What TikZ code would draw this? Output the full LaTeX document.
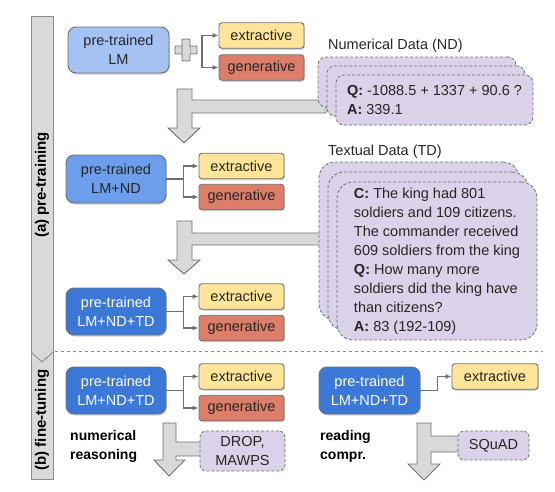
\documentclass[tikz,border=0pt]{standalone}
\usepackage{fontspec}
\setmainfont{Liberation Sans}
\usetikzlibrary{shadows,arrows.meta}
\definecolor{lblue}{HTML}{A4C2F4}
\definecolor{mblue}{HTML}{6D9EEB}
\definecolor{dblue}{HTML}{3C78D8}
\definecolor{lyellow}{HTML}{FFE599}
\definecolor{lred}{HTML}{DD7E6B}
\definecolor{lav}{HTML}{D9D2E9}
\definecolor{lgray}{HTML}{D9D9D9}
\definecolor{bord}{HTML}{707070}
\definecolor{txt}{HTML}{262626}
\tikzset{
  base/.style={font=\fontsize{14.5}{19}\selectfont, text=txt},
  shd/.style={drop shadow={opacity=0.35, shadow xshift=0.8pt, shadow yshift=-1.5pt}},
  model/.style={base, draw=bord, line width=0.9pt, rounded corners=8pt, minimum width=100pt, minimum height=47pt, align=center, inner sep=0pt, shd},
  headbox/.style={base, draw=bord, line width=0.9pt, rounded corners=3pt, minimum width=85pt, minimum height=25.5pt, inner sep=0pt, shd},
  extbox/.style={headbox, fill=lyellow},
  genbox/.style={headbox, fill=lred},
  databox/.style={base, draw=bord, densely dashed, line width=0.8pt, fill=lav, rounded corners=6pt, inner sep=0pt, align=center},
  stackbox/.style={base, draw=bord, densely dashed, line width=0.8pt, fill=lav, inner sep=0pt, align=left},
  conn/.style={draw=bord, line width=1.1pt, -{Latex[length=6pt,width=5pt]}},
  bigarrow/.style={fill=lgray, draw=bord, line width=0.9pt, line join=miter},
  plusbar/.style={fill=lgray, draw=bord, line width=0.9pt, inner sep=0pt, rounded corners=1pt},
  lbl/.style={base, anchor=west, inner sep=0pt},
  tasklbl/.style={base, font=\fontsize{14}{19}\selectfont\bfseries, text=black, anchor=west, align=left, inner sep=0pt},
}
\begin{document}
\begin{tikzpicture}[x=1pt, y=-1pt]
\useasboundingbox (0,0) rectangle (555,491);

% side bar
\draw[fill=lgray, draw=bord!80, line width=0.9pt] (31,16) rectangle (53,479);
\draw[draw=bord!80, line width=0.9pt] (31,352) -- (42,362) -- (53,352);
\node[base, text=black, font=\fontsize{15}{18}\selectfont\bfseries, rotate=90] (sa) at (42,185) {(a) pre-training};
\node[base, text=black, font=\fontsize{15}{18}\selectfont\bfseries, rotate=90] (sb) at (42,420) {(b) fine-tuning};
\draw[bord!80, dashed, line width=0.8pt] (55,351) -- (543,351);

% big gray arrows
\draw[bigarrow] (177,89) -- (192,89) -- (192,100) -- (326,100) -- (326,113) -- (192,113) -- (192,128) -- (200,128) -- (184,143) -- (168,128) -- (177,128) -- cycle;
\draw[bigarrow] (177,221) -- (192,221) -- (192,233) -- (326,233) -- (326,245) -- (192,245) -- (192,260) -- (200,260) -- (184,274) -- (168,260) -- (177,260) -- cycle;
\draw[bigarrow] (163,423) -- (176,423) -- (176,442) -- (204,442) -- (204,456) -- (176,456) -- (176,460) -- (185,460) -- (169,476) -- (154,460) -- (163,460) -- cycle;
\draw[bigarrow] (417,423) -- (431,423) -- (431,436) -- (462,436) -- (462,452) -- (431,452) -- (431,464) -- (440,464) -- (424,480) -- (408,464) -- (417,464) -- cycle;

% row 1
\node[model, fill=lblue, minimum width=101pt, minimum height=46pt] (m1) at (118.5,50) {pre-trained\\LM};
\node[plusbar, minimum width=22pt, minimum height=8pt] (plus) at (186,50) {};
\node[plusbar, minimum width=8pt, minimum height=22pt] (plusv) at (186,50) {};
\fill[lgray] (182.5,46.5) rectangle (189.5,53.5);
\node[extbox] (e1) at (261.5,35.5) {extractive};
\node[genbox] (g1) at (261.5,67.5) {generative};
\coordinate (b1) at (202,50);
\draw[conn] (b1) |- (e1.west);
\draw[conn] (b1) |- (g1.west);

% row 2
\node[model, fill=mblue, minimum height=48pt] (m2) at (116,179) {pre-trained\\LM+ND};
\node[extbox] (e2) at (241.5,166) {extractive};
\node[genbox] (g2) at (241.5,197) {generative};
\draw[conn] (m2.east) -- ++(17,0) |- (e2.west);
\draw[conn] (m2.east) -- ++(17,0) |- (g2.west);

% row 3
\node[model, fill=dblue, text=white] (m3) at (116,311.5) {pre-trained\\LM+ND+TD};
\node[extbox] (e3) at (241.5,296.5) {extractive};
\node[genbox] (g3) at (241.5,328) {generative};
\draw[conn] (m3.east) -- ++(17,0) |- (e3.west);
\draw[conn] (m3.east) -- ++(17,0) |- (g3.west);

% fine-tuning left
\node[model, fill=dblue, text=white] (m4) at (116,390.5) {pre-trained\\LM+ND+TD};
\node[extbox] (e4) at (241.5,376.5) {extractive};
\node[genbox] (g4) at (241.5,408) {generative};
\draw[conn] (m4.east) -- ++(17,0) |- (e4.west);
\draw[conn] (m4.east) -- ++(17,0) |- (g4.west);
\node[tasklbl] (t1) at (70,446.5) {numerical\\reasoning};
\node[databox, minimum width=85pt, minimum height=40pt] (drop) at (242.5,451) {DROP,\\MAWPS};

% fine-tuning right
\node[model, fill=dblue, text=white, minimum width=101pt] (m5) at (369.5,390.5) {pre-trained\\LM+ND+TD};
\node[extbox, minimum width=86pt] (e5) at (495,376.5) {extractive};
\draw[conn] (m5.east) -- ++(17,0) |- (e5.west);
\node[tasklbl] (t2) at (320,446.5) {reading\\compr.};
\node[databox, minimum width=71pt, minimum height=29pt] (squad) at (493.5,445.5) {SQuAD};

% numerical data stack
\node[lbl] (ndl) at (328,46) {Numerical Data (ND)};
\node[stackbox, rounded corners=8pt, minimum width=198pt, minimum height=50pt] (nd1) at (417,82) {};
\node[stackbox, rounded corners=8pt, minimum width=198pt, minimum height=50pt] (nd2) at (426,91) {};
\node[stackbox, rounded corners=8pt, minimum width=197pt, minimum height=50pt] (nd3) at (434.5,100) {\textbf{Q:} -1088.5 + 1337 + 90.6 ?\\\textbf{A:} 339.1};

% textual data stack
\node[lbl] (tdl) at (328,152) {Textual Data (TD)};
\node[stackbox, rounded corners=16pt, minimum width=200pt, minimum height=158pt] (td1) at (419,241) {};
\node[stackbox, rounded corners=16pt, minimum width=200pt, minimum height=158pt] (td2) at (428,251) {};
\node[stackbox, rounded corners=16pt, minimum width=200pt, minimum height=158pt] (td3) at (437,261) {\textbf{C:} The king had 801\\soldiers and 109 citizens.\\The commander received\\609 soldiers from the king\\\textbf{Q:} How many more\\soldiers did the king have\\than citizens?\\\textbf{A:} 83 (192-109)};
\end{tikzpicture}
\end{document}
